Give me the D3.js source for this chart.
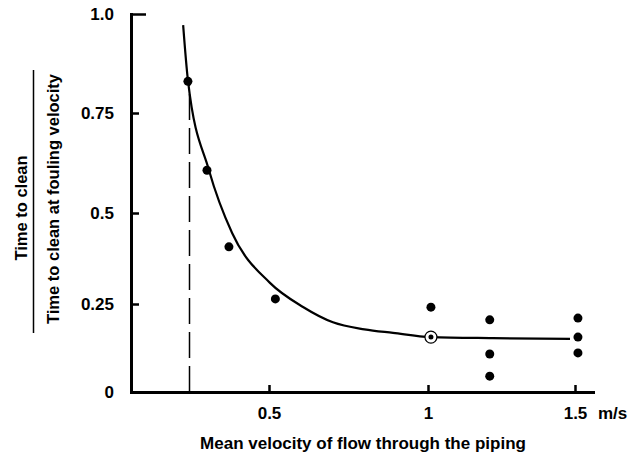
<!DOCTYPE html>
<html>
<head>
<meta charset="utf-8">
<script src="https://cdn.jsdelivr.net/npm/d3@7"></script>
<style>
  body { margin: 0; background: #fff; }
  text { font-family: "Liberation Sans", Arial, sans-serif; font-weight: bold; fill: #000; }
</style>
</head>
<body>
<div id="chart"></div>
<script>
// Values
const xTicks = [0.5, 1, 1.5];
const xTickLabels = ["0.5", "1", "1.5"];
const yTicks = [0, 0.25, 0.5, 0.75, 1];
const yTickLabels = ["0", "0.25", "0.5", "0.75", "1.0"];
const foulingVelocity = 0.25;

// measured points
const measuredX = [0.245, 0.305, 0.374, 0.52, 1.01, 1.21, 1.21, 1.21, 1.51, 1.51, 1.51];
const measuredY = [0.83, 0.607, 0.407, 0.264, 0.241, 0.205, 0.108, 0.045, 0.21, 0.156, 0.111];

// reference point (circled)
const refX = [1.01];
const refY = [0.156];

// fitted curve
const curveX = [0.23, 0.245, 0.311, 0.384, 0.503, 0.607, 0.701, 0.8, 0.89, 1.01, 1.22, 1.483];
const curveY = [0.972, 0.833, 0.6075, 0.445, 0.308, 0.2415, 0.198, 0.178, 0.168, 0.156, 0.153, 0.151];

const width = 632, height = 454;

const svg = d3.select("#chart")
    .append("svg")
    .attr("width", width)
    .attr("height", height);

// The original axes are not quite linear, so piecewise scales
const x = d3.scaleLinear()
    .domain([0.066, 0.5, 1, 1.5, 1.561])
    .range([131, 269, 428, 575, 593]);

const y = d3.scaleLinear()
    .domain([0, 0.25, 0.5, 0.75, 1])
    .range([392, 304, 213, 113, 14]);

// x axis
const xAxis = svg.append("g")
    .attr("transform", `translate(0,${y(0)})`)
    .call(d3.axisBottom(x)
        .tickValues(xTicks)
        .tickFormat((d, i) => xTickLabels[i])
        .tickSizeInner(-7)
        .tickSizeOuter(0)
        .tickPadding(15));

// y axis
const yAxis = svg.append("g")
    .attr("transform", `translate(${x(0.066)},0)`)
    .call(d3.axisLeft(y)
        .tickValues(yTicks)
        .tickFormat((d, i) => yTickLabels[i])
        .tickSizeInner(-8)
        .tickSizeOuter(0)
        .tickPadding(17));

[xAxis, yAxis].forEach(g => {
    g.select(".domain")
        .attr("stroke", "#000")
        .attr("stroke-width", 3)
        .attr("stroke-linecap", "square");
    g.selectAll(".tick line")
        .attr("stroke", "#000")
        .attr("stroke-width", 2.5);
    g.selectAll(".tick text")
        .attr("font-family", null)
        .attr("font-size", null)
        .style("font-size", "17px");
});

// longer tick at the top of the y axis
yAxis.selectAll(".tick line")
    .filter(d => d === 1)
    .attr("x2", 15);

// unit label
svg.append("text")
    .attr("x", 598)
    .attr("y", 419)
    .style("font-size", "17px")
    .text("m/s");

// x-axis title
svg.append("text")
    .attr("x", 363)
    .attr("y", 449)
    .attr("text-anchor", "middle")
    .style("font-size", "17px")
    .text("Mean velocity of flow through the piping");

// y-axis title as a fraction
svg.append("text")
    .attr("transform", "translate(27,208) rotate(-90)")
    .attr("text-anchor", "middle")
    .style("font-size", "16.5px")
    .text("Time to clean");

svg.append("line")
    .attr("x1", 33.5).attr("x2", 33.5)
    .attr("y1", 70).attr("y2", 333)
    .attr("stroke", "#000")
    .attr("stroke-width", 1.5);

svg.append("text")
    .attr("transform", "translate(59,199) rotate(-90)")
    .attr("text-anchor", "middle")
    .style("font-size", "16.5px")
    .text("Time to clean at fouling velocity");

// dashed line at the fouling velocity
svg.append("line")
    .attr("x1", x(foulingVelocity)).attr("x2", x(foulingVelocity))
    .attr("y1", y(0)).attr("y2", y(measuredY[0]))
    .attr("stroke", "#000")
    .attr("stroke-width", 1.5)
    .attr("stroke-dasharray", "26,8");

// curve
const curveData = curveX.map((d, i) => [d, curveY[i]]);
svg.append("path")
    .datum(curveData)
    .attr("fill", "none")
    .attr("stroke", "#000")
    .attr("stroke-width", 2.2)
    .attr("d", d3.line()
        .x(d => x(d[0]))
        .y(d => y(d[1]))
        .curve(d3.curveMonotoneX));

// measured points
svg.selectAll(".pt")
    .data(measuredX.map((d, i) => [d, measuredY[i]]))
    .enter()
    .append("circle")
    .attr("class", "pt")
    .attr("cx", d => x(d[0]))
    .attr("cy", d => y(d[1]))
    .attr("r", 4.5)
    .attr("fill", "#000");

// circled reference point
const refData = refX.map((d, i) => [d, refY[i]]);
svg.selectAll(".ref")
    .data(refData)
    .enter()
    .append("circle")
    .attr("class", "ref")
    .attr("cx", d => x(d[0]))
    .attr("cy", d => y(d[1]))
    .attr("r", 6)
    .attr("fill", "#fff")
    .attr("stroke", "#000")
    .attr("stroke-width", 1.2);

svg.selectAll(".refdot")
    .data(refData)
    .enter()
    .append("circle")
    .attr("class", "refdot")
    .attr("cx", d => x(d[0]))
    .attr("cy", d => y(d[1]))
    .attr("r", 2.5)
    .attr("fill", "#000");
</script>
</body>
</html>
